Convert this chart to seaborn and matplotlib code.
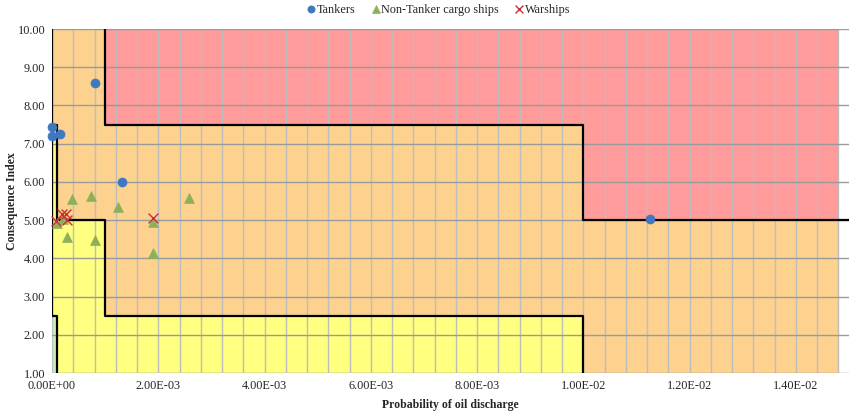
import numpy as np
import pandas as pd
import matplotlib
matplotlib.use("Agg")
import matplotlib.pyplot as plt
from matplotlib.ticker import MultipleLocator, FuncFormatter
import seaborn as sns

# Observed ships (probability of oil discharge, consequence index)
tanker_p = [0.0, 0.0, 0.00015, 0.00081, 0.00132, 0.01125]
tanker_c = [7.44, 7.19, 7.24, 8.58, 6.00, 5.02]

cargo_p = [0.0001, 0.0002, 0.00038, 0.00029, 0.00073, 0.0008, 0.00124, 0.0019, 0.0019, 0.00258]
cargo_c = [4.92, 5.03, 5.54, 4.57, 5.63, 4.48, 5.33, 4.94, 4.15, 5.57]

warship_p = [0.00008, 0.00018, 0.00027, 0.00028, 0.0019]
warship_c = [4.97, 5.17, 5.17, 4.99, 5.06]

# Risk regions: step edges along x, level per step
edges = [0.0, 0.0001, 0.001, 0.01, 0.0148]
green_top = [2.5, 1.0, 1.0, 1.0, 1.0]
yellow_top = [7.5, 5.0, 2.5, 1.0, 1.0]
red_bottom = [10.0, 10.0, 7.5, 5.0, 5.0]

# Boundary lines
low_line_x = [0.0, 0.0, 0.0001, 0.0001, 0.001, 0.001, 0.01, 0.01]
low_line_y = [10.0, 7.5, 7.5, 5.0, 5.0, 2.5, 2.5, 1.0]
green_line_x = [0.0, 0.0, 0.0001, 0.0001]
green_line_y = [7.5, 2.5, 2.5, 1.0]
high_line_x = [0.001, 0.001, 0.01, 0.01, 0.015]
high_line_y = [10.0, 7.5, 7.5, 5.0, 5.0]

sns.set_style("white")
plt.rcParams["font.family"] = ["Liberation Serif", "DejaVu Serif"]

fig = plt.figure(figsize=(8.51, 4.12), dpi=100)
ax = fig.add_axes([52 / 851, 1 - 373 / 412, (849 - 52) / 851, (373 - 29) / 412])

# Background bands
ax.fill_between(edges, 1.0, 10.0, step="post", color="#FDD28F", lw=0, zorder=0.1)
ax.fill_between(edges, red_bottom, 10.0, step="post", color="#FF9B9B", lw=0, zorder=0.15)
ax.fill_between(edges, 1.0, yellow_top, step="post", color="#FFFF80", lw=0, zorder=0.15)
ax.fill_between(edges, 1.0, green_top, step="post", color="#C8F0C0", lw=0, zorder=0.2)

ax.plot(low_line_x, low_line_y, color="black", lw=1.6, zorder=2)
ax.plot(green_line_x, green_line_y, color="black", lw=1.6, zorder=2)
ax.plot(high_line_x, high_line_y, color="black", lw=1.6, zorder=2)

tankers = pd.DataFrame({"p": tanker_p, "c": tanker_c})
cargo = pd.DataFrame({"p": cargo_p, "c": cargo_c})
warships = pd.DataFrame({"p": warship_p, "c": warship_c})

sns.scatterplot(data=tankers, x="p", y="c", ax=ax, marker="o", s=42,
                color="#3F78C0", edgecolor="#3F78C0", linewidth=0.5,
                label="Tankers", zorder=3, clip_on=False)
sns.scatterplot(data=cargo, x="p", y="c", ax=ax, marker="^", s=50,
                color="#8DB05A", edgecolor="#8DB05A", linewidth=0.5,
                label="Non-Tanker cargo ships", zorder=3, clip_on=False)
sns.scatterplot(data=warships, x="p", y="c", ax=ax, marker="x", s=50,
                color="#C9303A", linewidth=1.0,
                label="Warships", zorder=3, clip_on=False)

ax.set_xlim(0, 0.015)
ax.set_ylim(1, 10)
ax.xaxis.set_major_locator(MultipleLocator(0.002))
ax.xaxis.set_minor_locator(MultipleLocator(0.0004))
ax.yaxis.set_major_locator(MultipleLocator(1))
ax.xaxis.set_major_formatter(FuncFormatter(lambda v, pos: f"{v:.2E}"))
ax.yaxis.set_major_formatter(FuncFormatter(lambda v, pos: f"{v:.2f}"))

ax.set_axisbelow(True)
ax.grid(which="major", axis="y", color="#9A9A9A", lw=1.0)
ax.grid(which="both", axis="x", color="#BDBDBD", lw=1.0)
ax.tick_params(which="both", length=0, labelsize=8.8, pad=5)

for s in ax.spines.values():
    s.set_visible(False)

ax.set_xlabel("Probability of oil discharge", fontsize=8.5, fontweight="bold", labelpad=5)
ax.set_ylabel("Consequence Index", fontsize=8.5, fontweight="bold")
ax.yaxis.set_label_coords(-0.043, 0.5)

ax.legend_.remove()
handles, labels = ax.get_legend_handles_labels()
fig.legend(handles, labels, loc="upper center", bbox_to_anchor=(436 / 851, 1.018),
           ncol=3, frameon=False, fontsize=8.8, handletextpad=-0.3,
           columnspacing=0.9, markerscale=0.8, handlelength=1.5)

fig.savefig("out.png", dpi=100)
